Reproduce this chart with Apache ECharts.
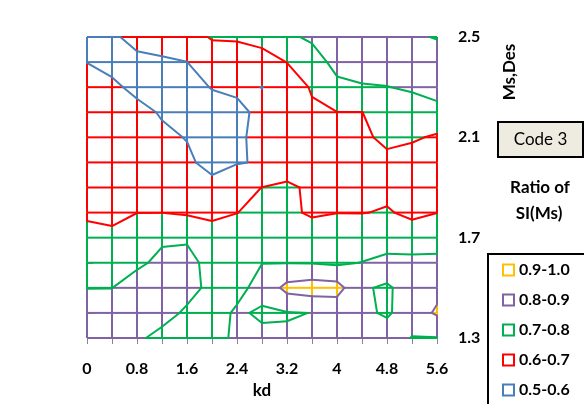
<!DOCTYPE html>
<html>
<head>
<meta charset="utf-8">
<script src="https://cdn.jsdelivr.net/npm/echarts@6/dist/echarts.min.js"></script>
<style>
html, body { margin: 0; padding: 0; background: #fff; }
#chart { width: 584px; height: 404px; }
</style>
</head>
<body>
<div id="chart"></div>
<script>
// grid columns (kd) and rows (Ms,Des)
const kd = [0, 0.4, 0.8, 1.2, 1.6, 2.0, 2.4, 2.8, 3.2, 3.6, 4.0, 4.4, 4.8, 5.2, 5.6]
const msDes = [1.3, 1.4, 1.5, 1.6, 1.7, 1.8, 1.9, 2.0, 2.1, 2.2, 2.3, 2.4, 2.5]

// ratio of SI(Ms), one row per Ms,Des value, kd = 0 ... 5.6
const ms13 = [0.83, 0.84, 0.82, 0.764, 0.76, 0.77, 0.816, 0.815, 0.81, 0.83, 0.84, 0.84, 0.852, 0.796, 0.796]
const ms14 = [0.83, 0.84, 0.85, 0.844, 0.781, 0.771, 0.81, 0.79, 0.795, 0.801, 0.83, 0.82, 0.787, 0.852, 0.913]
const ms15 = [0.799, 0.799, 0.851, 0.86, 0.84, 0.77, 0.78, 0.825, 0.93, 0.95, 0.94, 0.804, 0.795, 0.817, 0.874]
const ms16 = [0.76, 0.77, 0.78, 0.825, 0.84, 0.757, 0.77, 0.799, 0.798, 0.795, 0.784, 0.802, 0.8225, 0.834, 0.8225]
const ms17 = [0.72, 0.713, 0.73, 0.785, 0.785, 0.73, 0.73, 0.75, 0.75, 0.74, 0.74, 0.75, 0.76, 0.73, 0.76]
const ms18 = [0.69, 0.685, 0.6995, 0.699, 0.69, 0.685, 0.699, 0.72, 0.715, 0.69, 0.699, 0.698, 0.705, 0.688, 0.699]
const ms19 = [0.66, 0.66, 0.66, 0.66, 0.655, 0.635, 0.666, 0.701, 0.719, 0.681, 0.68, 0.68, 0.685, 0.68, 0.67]
const ms20 = [0.64, 0.63, 0.62, 0.62, 0.619, 0.565, 0.595, 0.607, 0.64, 0.65, 0.66, 0.67, 0.673, 0.645, 0.66]
const ms21 = [0.64, 0.63, 0.62, 0.619, 0.596, 0.57, 0.58, 0.634, 0.65, 0.66, 0.67, 0.68, 0.724, 0.715, 0.685]
const ms22 = [0.65, 0.64, 0.629, 0.591, 0.57, 0.565, 0.56, 0.64, 0.66, 0.692, 0.699, 0.699, 0.74, 0.76, 0.788]
const ms23 = [0.66, 0.62, 0.575, 0.56, 0.57, 0.604, 0.63, 0.598, 0.67, 0.705, 0.773, 0.793, 0.798, 0.81, 0.815]
const ms24 = [0.598, 0.57, 0.57, 0.582, 0.599, 0.673, 0.655, 0.675, 0.701, 0.746, 0.836, 0.84, 0.84, 0.83, 0.836]
const ms25 = [0.56, 0.58, 0.64, 0.66, 0.68, 0.704, 0.71, 0.72, 0.78, 0.818, 0.83, 0.83, 0.82, 0.81, 0.796]
const ratioRows = [ms13, ms14, ms15, ms16, ms17, ms18, ms19, ms20, ms21, ms22, ms23, ms24, ms25]

// bands, low to high
const bandNames = ['0.5-0.6', '0.6-0.7', '0.7-0.8', '0.8-0.9', '0.9-1.0']
const bandColors = ['#4A7EBB', '#FF0000', '#00B050', '#7F63A4', '#FFC000']
const levels = [0.6, 0.7, 0.8, 0.9]

const FONT = 'Lato, "Liberation Sans", sans-serif'

function bandOf(z) {
    let b = 0
    while (b < levels.length && z >= levels[b]) b++
    return b
}

// split one grid edge where it crosses a band limit
function edgePieces(za, zb) {
    let ts = [0, 1]
    levels.forEach(L => {
        if ((L - za) * (L - zb) < 0) ts.push((L - za) / (zb - za))
    })
    ts.sort((a, b) => a - b)
    let out = []
    for (let k = 0; k < ts.length - 1; k++) {
        let tm = (ts[k] + ts[k + 1]) / 2
        out.push([ts[k], ts[k + 1], bandOf(za + (zb - za) * tm)])
    }
    return out
}

const lerp = (a, c, t) => [a[0] + (c[0] - a[0]) * t, a[1] + (c[1] - a[1]) * t]

// every node draws its right and upper edge, and the contours of the cell above-right of it
let nodes = []
msDes.forEach((y, j) => kd.forEach((x, i) => nodes.push([x, y, i, j])))

function makeRender(b) {
    return function (params, api) {
        let i = api.value(2), j = api.value(3)
        let z = (ii, jj) => ratioRows[jj][ii]
        let p = (ii, jj) => api.coord([kd[ii], msDes[jj]])
        let children = []

        function edge(i1, j1) {
            let A = p(i, j), B = p(i1, j1)
            edgePieces(z(i, j), z(i1, j1)).forEach(([t0, t1, bb]) => {
                if (bb !== b) return
                let P = lerp(A, B, t0), Q = lerp(A, B, t1)
                children.push({
                    type: 'line', z2: 1,
                    shape: { x1: P[0], y1: P[1], x2: Q[0], y2: Q[1] },
                    style: { stroke: bandColors[b], lineWidth: 2 }
                })
            })
        }
        if (i < kd.length - 1) edge(i + 1, j)
        if (j < msDes.length - 1) edge(i, j + 1)

        // contour line at the top of this band (marching squares)
        if (b < levels.length && i < kd.length - 1 && j < msDes.length - 1) {
            let L = levels[b]
            let c = [z(i, j), z(i + 1, j), z(i + 1, j + 1), z(i, j + 1)]
            let P = [p(i, j), p(i + 1, j), p(i + 1, j + 1), p(i, j + 1)]
            let cross = [null, null, null, null], n = 0
            for (let e = 0; e < 4; e++) {
                let za = c[e], zb = c[(e + 1) % 4]
                if ((za >= L) !== (zb >= L)) {
                    cross[e] = lerp(P[e], P[(e + 1) % 4], (L - za) / (zb - za))
                    n++
                }
            }
            let segs = []
            if (n === 2) {
                let pts = cross.filter(Boolean)
                segs.push(pts)
            } else if (n === 4) {
                let up = (c[0] + c[1] + c[2] + c[3]) / 4 >= L
                for (let k = 0; k < 4; k++)
                    if ((c[k] >= L) !== up) segs.push([cross[(k + 3) % 4], cross[k]])
            }
            segs.forEach(s => children.push({
                type: 'line', z2: 5,
                shape: { x1: s[0][0], y1: s[0][1], x2: s[1][0], y2: s[1][1] },
                style: { stroke: bandColors[b], lineWidth: 2, lineCap: 'round' }
            }))
        }
        return { type: 'group', children: children }
    }
}

let series = [4, 3, 2, 1, 0].map(b => ({
    name: bandNames[b],
    type: 'custom',
    renderItem: makeRender(b),
    encode: { x: 0, y: 1 },
    data: nodes,
    silent: true,
    itemStyle: { color: '#fff', borderColor: bandColors[b], borderWidth: 2 }
}))

let chart = echarts.init(document.getElementById('chart'))
chart.setOption({
    animation: false,
    backgroundColor: '#fff',
    grid: { left: 87, right: 147, top: 37, bottom: 62 },
    xAxis: {
        type: 'value', min: 0, max: 5.6, interval: 0.4,
        name: 'kd', nameLocation: 'middle', nameGap: 44,
        nameTextStyle: { fontFamily: FONT, fontSize: 17, fontWeight: 'bold', color: '#000' },
        axisLine: { show: false },
        splitLine: { show: false },
        axisTick: { show: true, length: 6, lineStyle: { color: '#888' } },
        axisLabel: {
            margin: 23, fontFamily: FONT, fontSize: 16, fontWeight: 'bold', color: '#000',
            formatter: v => Math.round(v / 0.4) % 2 === 0 ? String(+v.toFixed(1)) : ''
        }
    },
    yAxis: {
        type: 'value', position: 'right', min: 1.3, max: 2.5, interval: 0.1,
        axisLine: { show: false },
        splitLine: { show: false },
        axisTick: { show: true, length: 6, lineStyle: { color: '#888' } },
        axisLabel: {
            margin: 21, fontFamily: FONT, fontSize: 16, fontWeight: 'bold', color: '#000',
            formatter: v => Math.round((v - 1.3) * 10) % 4 === 0 ? v.toFixed(1) : ''
        }
    },
    legend: {
        orient: 'vertical', left: 502, top: 262, padding: 0,
        itemWidth: 11, itemHeight: 11, itemGap: 14, icon: 'rect',
        selectedMode: false,
        textStyle: { fontFamily: FONT, fontSize: 16, fontWeight: 'bold', color: '#000', lineHeight: 16 },
        data: [4, 3, 2, 1, 0].map(b => ({
            name: bandNames[b],
            itemStyle: { color: '#fff', borderColor: bandColors[b], borderWidth: 2 }
        }))
    },
    graphic: [
        {
            type: 'text', x: 510, y: 72, rotation: Math.PI / 2,
            style: { text: 'Ms,Des', fill: '#000', font: 'bold 17px ' + FONT, align: 'center', verticalAlign: 'middle', textAlign: 'center', textVerticalAlign: 'middle' }
        },
        {
            type: 'rect', shape: { x: 498, y: 122, width: 85, height: 35 },
            style: { fill: '#EEECE1', stroke: '#000', lineWidth: 2 }
        },
        {
            type: 'text', x: 540.5, y: 140,
            style: { text: 'Code 3', fill: '#000', font: '17px ' + FONT, align: 'center', verticalAlign: 'middle', textAlign: 'center', textVerticalAlign: 'middle' }
        },
        {
            type: 'text', x: 540, y: 188,
            style: { text: 'Ratio of', fill: '#000', font: 'bold 17px ' + FONT, align: 'center', verticalAlign: 'middle', textAlign: 'center', textVerticalAlign: 'middle' }
        },
        {
            type: 'text', x: 539, y: 214,
            style: { text: 'SI(Ms)', fill: '#000', font: 'bold 17px ' + FONT, align: 'center', verticalAlign: 'middle', textAlign: 'center', textVerticalAlign: 'middle' }
        },
        {
            type: 'rect', shape: { x: 488, y: 254, width: 110, height: 160 },
            style: { fill: 'none', stroke: '#000', lineWidth: 2 }
        }
    ],
    series: series
})
</script>
</body>
</html>
